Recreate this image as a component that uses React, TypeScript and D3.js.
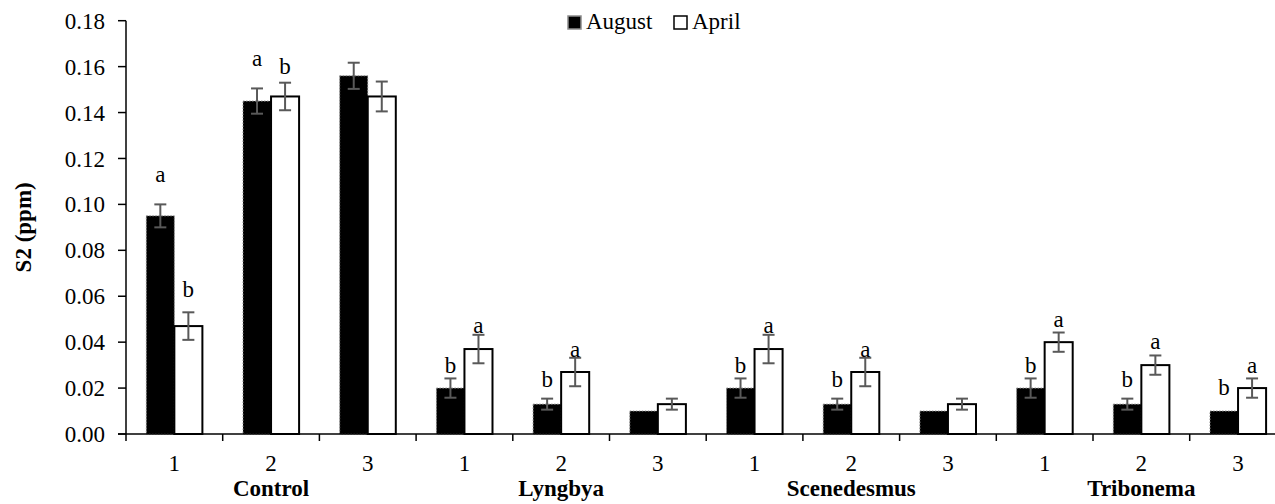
import React, { useRef, useEffect } from 'react';
import * as d3 from 'd3';

const groups = ['Control', 'Lyngbya', 'Scenedesmus', 'Tribonema'];
const subLabels = ['1', '2', '3'];
const seriesNames = ['August', 'April'];

const august = [0.095, 0.145, 0.156, 0.02, 0.013, 0.01, 0.02, 0.013, 0.01, 0.02, 0.013, 0.01];
const april = [0.047, 0.147, 0.147, 0.037, 0.027, 0.013, 0.037, 0.027, 0.013, 0.04, 0.03, 0.02];
const augustErr = [0.005, 0.0055, 0.0057, 0.0042, 0.0024, 0, 0.0042, 0.0024, 0, 0.0042, 0.0024, 0];
const aprilErr = [0.006, 0.006, 0.0065, 0.0062, 0.0062, 0.0024, 0.0062, 0.0062, 0.0024, 0.0042, 0.0042, 0.0042];
// significance letters and where they sit (in ppm)
const augustLetters = ['a', 'a', '', 'b', 'b', '', 'b', 'b', '', 'b', 'b', 'b'];
const aprilLetters = ['b', 'b', '', 'a', 'a', '', 'a', 'a', '', 'a', 'a', 'a'];
const augustLetterAt = [0.1097, 0.1603, 0, 0.0267, 0.0203, 0, 0.0267, 0.0203, 0, 0.0267, 0.0203, 0.017];
const aprilLetterAt = [0.0598, 0.1568, 0, 0.0439, 0.0337, 0, 0.0439, 0.0337, 0, 0.0467, 0.0369, 0.0267];
const yTicks = [0, 0.02, 0.04, 0.06, 0.08, 0.1, 0.12, 0.14, 0.16, 0.18];

const FONT = "'Liberation Serif', 'DejaVu Serif', serif";

const App = () => {
  const svgRef = useRef<SVGSVGElement>(null);

  useEffect(() => {
    const width = 1275;
    const height = 504;
    const left = 126;
    const top = 20.7;
    const bottom = 434;
    const step = 96.7;

    const ids = d3.range(august.length);
    const x0 = d3.scaleBand<number>()
      .domain(ids)
      .range([left, left + step * ids.length])
      .paddingInner(0.42)
      .paddingOuter(0.21);
    const x1 = d3.scaleBand<string>().domain(seriesNames).range([0, x0.bandwidth()]);
    const y = d3.scaleLinear().domain([0, 0.18]).range([bottom, top]);

    const svg = d3.select(svgRef.current).attr('width', width).attr('height', height);
    svg.selectAll('*').remove();

    const rows = ids.map(i => [
      { s: 'August', i, v: august[i], e: augustErr[i], l: augustLetters[i], la: augustLetterAt[i] },
      { s: 'April', i, v: april[i], e: aprilErr[i], l: aprilLetters[i], la: aprilLetterAt[i] },
    ]).flat();
    const cx = (d: { i: number; s: string }) => x0(d.i)! + x1(d.s)! + x1.bandwidth() / 2;

    // bars
    svg.append('g')
      .selectAll('rect')
      .data(rows)
      .join('rect')
      .attr('x', d => x0(d.i)! + x1(d.s)!)
      .attr('y', d => y(d.v))
      .attr('width', x1.bandwidth())
      .attr('height', d => bottom - y(d.v))
      .attr('fill', d => (d.s === 'August' ? '#000' : '#fff'))
      .attr('stroke', d => (d.s === 'August' ? '#8c8c8c' : '#000'))
      .attr('stroke-width', d => (d.s === 'August' ? 1 : 2))
      .attr('stroke-dasharray', d => (d.s === 'August' ? '1.5,1.5' : null));

    // error bars
    const eg = svg.append('g').attr('stroke', '#595959').attr('stroke-width', 2);
    const withErr = rows.filter(d => d.e > 0);
    eg.append('g')
      .selectAll('line')
      .data(withErr)
      .join('line')
      .attr('x1', cx)
      .attr('x2', cx)
      .attr('y1', d => y(d.v - d.e))
      .attr('y2', d => y(d.v + d.e));
    [1, -1].forEach(sign => {
      eg.append('g')
        .selectAll('line')
        .data(withErr)
        .join('line')
        .attr('x1', d => cx(d) - 6)
        .attr('x2', d => cx(d) + 6)
        .attr('y1', d => y(d.v + sign * d.e))
        .attr('y2', d => y(d.v + sign * d.e));
    });

    // letters
    svg.append('g')
      .style('font-family', FONT)
      .style('font-size', '23px')
      .attr('text-anchor', 'middle')
      .selectAll('text')
      .data(rows.filter(d => d.l))
      .join('text')
      .attr('x', cx)
      .attr('y', d => y(d.la))
      .text(d => d.l);

    // y axis
    const ya = svg.append('g');
    ya.append('line')
      .attr('x1', left).attr('x2', left)
      .attr('y1', y(0.18)).attr('y2', bottom)
      .attr('stroke', '#000').attr('stroke-width', 1.5);
    ya.selectAll('line.t')
      .data(yTicks)
      .join('line')
      .attr('class', 't')
      .attr('x1', left - 8).attr('x2', left)
      .attr('y1', d => y(d)).attr('y2', d => y(d))
      .attr('stroke', '#000').attr('stroke-width', 1.5);
    ya.selectAll('text')
      .data(yTicks)
      .join('text')
      .attr('x', 105)
      .attr('y', d => y(d))
      .attr('dy', '0.35em')
      .attr('text-anchor', 'end')
      .style('font-family', FONT)
      .style('font-size', '23px')
      .text(d => d3.format('.2f')(d));

    svg.append('text')
      .attr('transform', `translate(31,${(top + bottom) / 2}) rotate(-90)`)
      .attr('text-anchor', 'middle')
      .style('font-family', FONT)
      .style('font-size', '23px')
      .style('font-weight', 'bold')
      .text('S2 (ppm)');

    // x axis
    const xa = svg.append('g');
    const right = left + step * ids.length;
    xa.append('line')
      .attr('x1', left - 8).attr('x2', right)
      .attr('y1', bottom).attr('y2', bottom)
      .attr('stroke', '#000').attr('stroke-width', 1.5);
    xa.selectAll('line.t')
      .data(d3.range(ids.length + 1))
      .join('line')
      .attr('class', 't')
      .attr('x1', d => left + d * x0.step()).attr('x2', d => left + d * x0.step())
      .attr('y1', bottom).attr('y2', bottom + 7)
      .attr('stroke', '#000').attr('stroke-width', 1.5);
    xa.selectAll('text.sub')
      .data(ids)
      .join('text')
      .attr('class', 'sub')
      .attr('x', d => x0(d)! + x0.bandwidth() / 2)
      .attr('y', 471)
      .attr('text-anchor', 'middle')
      .style('font-family', FONT)
      .style('font-size', '23px')
      .text(d => subLabels[d % 3]);
    xa.selectAll('text.grp')
      .data(groups)
      .join('text')
      .attr('class', 'grp')
      .attr('x', (d, k) => left + (k * 3 + 1.5) * x0.step())
      .attr('y', 496)
      .attr('text-anchor', 'middle')
      .style('font-family', FONT)
      .style('font-size', '23px')
      .style('font-weight', 'bold')
      .text(d => d);

    // legend
    const lg = svg.append('g');
    const legendItems = [
      { name: seriesNames[0], x: 568, fill: '#000', stroke: '#8c8c8c' },
      { name: seriesNames[1], x: 674, fill: '#fff', stroke: '#000' },
    ];
    lg.selectAll('rect')
      .data(legendItems)
      .join('rect')
      .attr('x', d => d.x).attr('y', 16)
      .attr('width', 13).attr('height', 13)
      .attr('fill', d => d.fill)
      .attr('stroke', d => d.stroke)
      .attr('stroke-width', 1.5);
    lg.selectAll('text')
      .data(legendItems)
      .join('text')
      .attr('x', d => d.x + 18).attr('y', 29)
      .style('font-family', FONT)
      .style('font-size', '23px')
      .text(d => d.name);
  }, []);

  return (
    <div style={{ position: 'absolute', left: 0, top: 0 }}>
      <svg ref={svgRef} style={{ display: 'block', background: '#fff' }}></svg>
    </div>
  );
};

export default App;
